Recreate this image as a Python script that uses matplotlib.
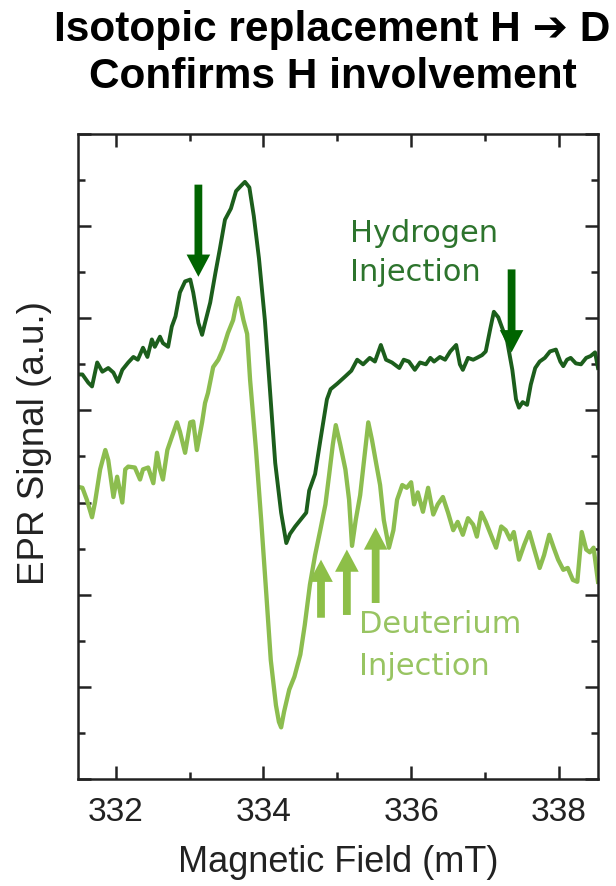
import matplotlib
matplotlib.use("Agg")
import matplotlib.pyplot as plt
from matplotlib.ticker import MultipleLocator

plt.rcParams['font.family'] = ['Liberation Sans', 'DejaVu Sans']

# EPR spectrum, hydrogen injection (field in mT, signal in a.u.)
h_field = [331.49, 331.55, 331.63, 331.68, 331.75, 331.82, 331.90, 331.97, 332.03, 332.09,
           332.17, 332.24, 332.30, 332.37, 332.43, 332.49, 332.53, 332.60, 332.64, 332.71,
           332.76, 332.81, 332.87, 332.94, 333.01, 333.05, 333.12, 333.17, 333.21, 333.28,
           333.35, 333.41, 333.48, 333.56, 333.63, 333.70, 333.75, 333.81, 333.87, 333.94,
           334.02, 334.09, 334.16, 334.24, 334.31, 334.36, 334.43, 334.50, 334.58, 334.62,
           334.70, 334.77, 334.86, 334.91, 335.00, 335.11, 335.19, 335.27, 335.35, 335.44,
           335.51, 335.59, 335.66, 335.74, 335.84, 335.90, 335.97, 336.05, 336.12, 336.20,
           336.26, 336.31, 336.39, 336.46, 336.53, 336.61, 336.66, 336.70, 336.77, 336.84,
           336.89, 336.96, 337.01, 337.07, 337.12, 337.18, 337.23, 337.30, 337.37, 337.42,
           337.46, 337.51, 337.57, 337.62, 337.68, 337.74, 337.81, 337.88, 337.96, 338.02,
           338.06, 338.11, 338.16, 338.23, 338.30, 338.37, 338.43, 338.49, 338.53]
h_signal = [4.39, 4.39, 4.30, 4.26, 4.52, 4.42, 4.46, 4.41, 4.31, 4.44,
            4.52, 4.58, 4.55, 4.68, 4.58, 4.77, 4.69, 4.80, 4.73, 4.69,
            4.91, 5.02, 5.28, 5.40, 5.42, 5.28, 4.95, 4.82, 4.95, 5.17,
            5.49, 5.75, 6.07, 6.19, 6.38, 6.44, 6.48, 6.42, 6.11, 5.65,
            4.98, 4.21, 3.43, 2.89, 2.56, 2.66, 2.74, 2.81, 2.89, 3.13,
            3.31, 3.67, 4.12, 4.23, 4.29, 4.37, 4.43, 4.55, 4.50, 4.57,
            4.53, 4.71, 4.55, 4.52, 4.46, 4.55, 4.53, 4.44, 4.52, 4.50,
            4.57, 4.53, 4.58, 4.55, 4.64, 4.71, 4.50, 4.44, 4.57, 4.55,
            4.57, 4.60, 4.64, 4.88, 5.07, 5.01, 4.90, 4.75, 4.44, 4.12,
            4.03, 4.09, 4.06, 4.28, 4.46, 4.53, 4.57, 4.64, 4.66, 4.53,
            4.48, 4.55, 4.57, 4.51, 4.50, 4.57, 4.59, 4.63, 4.46]

# EPR spectrum, deuterium injection
d_field = [331.49, 331.55, 331.61, 331.68, 331.72, 331.79, 331.86, 331.90, 331.97, 332.02,
           332.09, 332.13, 332.17, 332.26, 332.33, 332.37, 332.44, 332.51, 332.56, 332.60,
           332.64, 332.70, 332.76, 332.83, 332.87, 332.94, 333.01, 333.05, 333.10, 333.17,
           333.21, 333.25, 333.32, 333.39, 333.45, 333.52, 333.59, 333.63, 333.66, 333.68,
           333.73, 333.78, 333.82, 333.90, 333.97, 334.04, 334.10, 334.17, 334.21, 334.24,
           334.28, 334.35, 334.42, 334.50, 334.56, 334.63, 334.70, 334.77, 334.84, 334.89,
           334.94, 334.98, 335.04, 335.11, 335.16, 335.20, 335.25, 335.31, 335.36, 335.42,
           335.47, 335.53, 335.58, 335.63, 335.70, 335.76, 335.81, 335.88, 335.94, 336.00,
           336.04, 336.09, 336.16, 336.23, 336.30, 336.36, 336.43, 336.50, 336.57, 336.63,
           336.70, 336.77, 336.84, 336.89, 336.95, 337.01, 337.08, 337.15, 337.22, 337.28,
           337.34, 337.39, 337.46, 337.53, 337.60, 337.66, 337.74, 337.80, 337.87, 337.93,
           337.99, 338.06, 338.12, 338.19, 338.25, 338.31, 338.37, 338.42, 338.47, 338.53]
d_signal = [3.17, 3.16, 3.03, 2.84, 3.00, 3.36, 3.57, 3.46, 3.06, 3.28,
            3.00, 3.36, 3.39, 3.38, 3.25, 3.36, 3.38, 3.21, 3.54, 3.36,
            3.25, 3.57, 3.71, 3.87, 3.77, 3.54, 3.87, 3.88, 3.57, 3.87,
            4.08, 4.19, 4.47, 4.55, 4.66, 4.84, 4.98, 5.14, 5.22, 5.17,
            4.98, 4.83, 4.33, 3.57, 2.81, 2.00, 1.29, 0.80, 0.62, 0.56,
            0.73, 0.97, 1.11, 1.35, 1.67, 2.11, 2.43, 2.70, 2.98, 3.30,
            3.63, 3.84, 3.63, 3.36, 3.03, 2.53, 2.81, 3.08, 3.44, 3.87,
            3.68, 3.41, 3.19, 2.81, 2.51, 2.70, 3.03, 3.19, 3.16, 3.22,
            2.98, 3.11, 2.90, 3.16, 2.87, 2.98, 3.06, 2.89, 2.70, 2.79,
            2.65, 2.83, 2.76, 2.63, 2.89, 2.79, 2.65, 2.51, 2.74, 2.70,
            2.60, 2.68, 2.38, 2.54, 2.68, 2.51, 2.29, 2.43, 2.65, 2.51,
            2.38, 2.27, 2.29, 2.16, 2.14, 2.68, 2.49, 2.46, 2.51, 2.14]

# arrows: field position, start and end of the arrow in signal units
h_arrow_x = [333.12, 337.36]
h_arrow_from = [6.45, 5.53]
h_arrow_to = [5.45, 4.63]
d_arrow_x = [334.78, 335.13, 335.52]
d_arrow_from = [1.75, 1.78, 1.91]
d_arrow_to = [2.38, 2.49, 2.73]

dark = '#1c5e1c'
light = '#8cbd4f'
dark_arrow = '#006400'
light_arrow = '#8dbf48'

fig = plt.figure(figsize=(6.16, 8.86), dpi=100)
ax = fig.add_axes([0.1266, 0.1208, 0.8442, 0.7280])

ax.plot(h_field, h_signal, color=dark, lw=2.8, solid_joinstyle='round')
ax.plot(d_field, d_signal, color=light, lw=3.1, solid_joinstyle='round')

arrow_style = 'simple,head_length=0.8,head_width=0.85,tail_width=0.28'
for x, y0, y1 in zip(h_arrow_x, h_arrow_from, h_arrow_to):
    ax.annotate('', xy=(x, y1), xytext=(x, y0),
                arrowprops=dict(arrowstyle=arrow_style, color=dark_arrow, lw=0,
                                mutation_scale=20, shrinkA=0, shrinkB=0))
for x, y0, y1 in zip(d_arrow_x, d_arrow_from, d_arrow_to):
    ax.annotate('', xy=(x, y1), xytext=(x, y0),
                arrowprops=dict(arrowstyle=arrow_style, color=light_arrow, lw=0,
                                mutation_scale=20, shrinkA=0, shrinkB=0))

lab_font = ['DejaVu Sans']
ax.text(335.17, 5.83, 'Hydrogen', color='#2d742d', fontsize=22, family=lab_font)
ax.text(335.17, 5.40, 'Injection', color='#2d742d', fontsize=22, family=lab_font)
ax.text(335.30, 1.585, 'Deuterium', color='#98c462', fontsize=22, family=lab_font)
ax.text(335.30, 1.13, 'Injection', color='#98c462', fontsize=22, family=lab_font)

ax.set_xlim(331.49, 338.53)
ax.set_ylim(0, 7)
ax.xaxis.set_major_locator(MultipleLocator(2))
ax.xaxis.set_minor_locator(MultipleLocator(1))
ax.yaxis.set_major_locator(MultipleLocator(1))
ax.yaxis.set_minor_locator(MultipleLocator(0.5))
ax.tick_params(which='both', direction='in', top=True, right=True,
               width=1.8, color='#222222', labelsize=24, labelcolor='#222222', pad=13)
ax.tick_params(which='major', length=9.5)
ax.tick_params(which='minor', length=5)
ax.tick_params(axis='y', labelleft=False)
for s in ax.spines.values():
    s.set_linewidth(1.8)
    s.set_color('#222222')

ax.set_xlabel('Magnetic Field (mT)', fontsize=26, color='#222222', labelpad=12)
ax.set_ylabel('EPR Signal (a.u.)', fontsize=26.5, color='#222222')
ax.yaxis.set_label_coords(-0.05, 0.521)

fig.text(0.540, 0.9537, 'Isotopic replacement H \u2794 D', ha='center', va='baseline',
         fontsize=30.5, fontweight='bold')
fig.text(0.540, 0.9007, 'Confirms H involvement', ha='center', va='baseline',
         fontsize=30.5, fontweight='bold')

fig.savefig('out.png', dpi=100)
